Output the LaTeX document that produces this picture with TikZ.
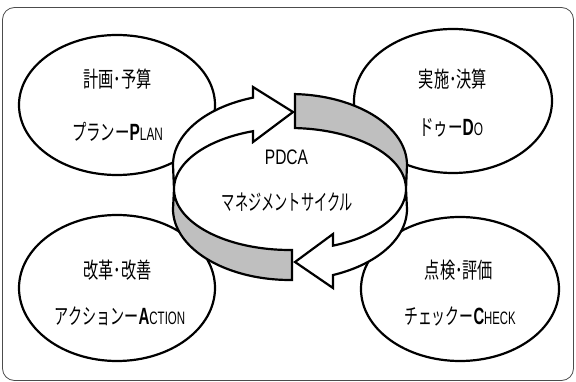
\documentclass[tikz,border=0pt]{standalone}
\usepackage{fontspec}
\usepackage{graphicx}
\setmainfont{Liberation Sans}
\newfontfamily\jp{Noto Sans CJK JP}
\usetikzlibrary{shapes.geometric}
\newcommand\sx[2]{\scalebox{#1}[1]{#2}}
\newcommand\smc[1]{{\fontsize{18}{18}\selectfont #1}}
\newcommand\bgc[1]{{\fontsize{23.5}{24}\selectfont\bfseries #1}}
\begin{document}
\begin{tikzpicture}[x=1pt,y=-1pt,
  bubble/.style={ellipse,draw=black,line width=2.2pt,fill=white,inner sep=0pt},
  band/.style={draw=black,line width=2.2pt,line join=miter},
  lbl/.style={inner sep=0pt,font=\fontsize{22}{24}\selectfont},
]
\useasboundingbox (0,0) rectangle (576,382);
\draw[gray!60!black,line width=0.8pt,rounded corners=12pt] (2.5,7.5) rectangle (573.5,380.5);

% bubbles
\node[bubble,minimum width=196pt,minimum height=140pt] (plan) at (117,105) {};
\node[bubble,minimum width=198pt,minimum height=144pt] (do) at (453,101) {};
\node[bubble,minimum width=196pt,minimum height=146pt] (act) at (117,288) {};
\node[bubble,minimum width=198pt,minimum height=144pt] (chk) at (460,289) {};

% top arrow (white)
\draw[band,fill=white]
  plot[domain=180:251.6,samples=40] ({290+117*cos(\x)},{165+71*sin(\x)})
  -- (253,87) -- (293,112) -- (253,142) --
  plot[domain=251.4:180,samples=40] ({290+116*cos(\x)},{189+61*sin(\x)})
  -- cycle;
% top-right band (gray)
\draw[band,fill=gray!50]
  plot[domain=272.4:360,samples=40] ({290+117*cos(\x)},{165+71*sin(\x)})
  -- plot[domain=360:272.5,samples=40] ({290+116*cos(\x)},{189+61*sin(\x)})
  -- cycle;
% bottom arrow (white)
\draw[band,fill=white]
  plot[domain=0:68.2,samples=40] ({290+116*cos(\x)},{189+61*sin(\x)})
  -- (333,234) -- (295,262) -- (333,288) --
  plot[domain=68.4:0,samples=40] ({290+117*cos(\x)},{209+71*sin(\x)})
  -- cycle;
% bottom-left band (gray)
\draw[band,fill=gray!50]
  plot[domain=180:89,samples=40] ({290+116*cos(\x)},{189+61*sin(\x)})
  -- plot[domain=89:180,samples=40] ({290+117*cos(\x)},{209+71*sin(\x)})
  -- cycle;

% labels
\node[lbl] (p1) at (117.5,79) {\sx{0.69}{\jp 計画･予算}};
\node[lbl] (p2) at (117.5,132) {\sx{0.655}{{\jp プランー}\bgc{P}\smc{LAN}}};
\node[lbl] (d1) at (453,79) {\sx{0.69}{\jp 実施･決算}};
\node[lbl] (d2) at (451,128) {\sx{0.66}{{\jp ドゥー}\bgc{D}\smc{O}}};
\node[lbl] (a1) at (117.5,270) {\sx{0.69}{\jp 改革･改善}};
\node[lbl] (a2) at (120,316) {\sx{0.64}{{\jp アクションー}\bgc{A}\smc{CTION}}};
\node[lbl] (c1) at (459,270) {\sx{0.69}{\jp 点検･評価}};
\node[lbl] (c2) at (460,316) {\sx{0.63}{{\jp チェックー}\bgc{C}\smc{HECK}}};
\node[inner sep=0pt,font=\fontsize{21}{22}\selectfont] (pdca) at (286.5,157.5) {\sx{0.74}{PDCA}};
\node[lbl] (cyc) at (287.5,202) {\sx{0.6}{\jp マネジメントサイクル}};
\end{tikzpicture}
\end{document}
